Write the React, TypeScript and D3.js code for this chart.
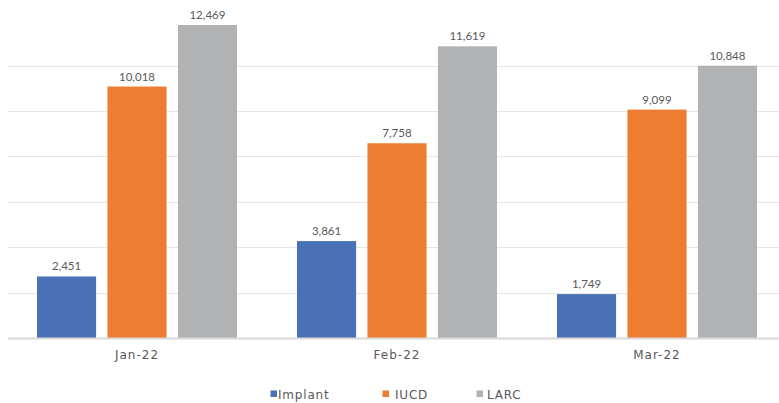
import React from "react";
import * as d3 from "d3";

const months = ["Jan-22", "Feb-22", "Mar-22"];
const seriesNames = ["Implant", "IUCD", "LARC"];
const implantValues = [2451, 3861, 1749];
const iucdValues = [10018, 7758, 9099];
const larcValues = [12469, 11619, 10848];
const gridTicks = [1808, 3616, 5424, 7232, 9040, 10848];
const colors = ["#4472C4", "#ED7D31", "#A5A5A5"];

const W = 779;
const H = 403;

export default function App() {
  const seriesValues = [implantValues, iucdValues, larcValues];
  const x0 = d3
    .scaleBand<string>()
    .domain(months)
    .range([7, 787])
    .paddingInner(60 / 260)
    .paddingOuter(30 / 260);
  const x1 = d3
    .scaleBand<string>()
    .domain(seriesNames)
    .range([0, x0.bandwidth()])
    .paddingInner(0.161)
    .paddingOuter(0);
  const y = d3.scaleLinear().domain([0, 12469]).range([338, 25]);
  const fmt = d3.format(",");
  const barColor = ["#4A71B6", "#ED7D31", "#B1B2B3"];

  const legendItems = [
    { name: seriesNames[0], sx: 270.5, tx: 278 },
    { name: seriesNames[1], sx: 382.5, tx: 395 },
    { name: seriesNames[2], sx: 476.5, tx: 487 },
  ];

  return (
    <svg
      width={W}
      height={H}
      style={{ position: "absolute", left: 0, top: 0, background: "#fff" }}
    >
      <g>
        {gridTicks.map((t) => (
          <line
            key={t}
            x1={8}
            x2={W}
            y1={Math.round(y(t)) + 0.5}
            y2={Math.round(y(t)) + 0.5}
            stroke="#E6E6E6"
            strokeWidth={1}
          />
        ))}
      </g>
      {months.map((m, i) => (
        <g key={m} transform={`translate(${x0(m)},0)`}>
          {seriesNames.map((s, j) => {
            const v = seriesValues[j][i];
            return (
              <g key={s}>
                <rect
                  x={x1(s)}
                  y={y(v)}
                  width={x1.bandwidth()}
                  height={y(0) - y(v)}
                  fill={barColor[j]}
                />
                <text
                  x={(x1(s) as number) + x1.bandwidth() / 2}
                  y={y(v) - 6}
                  textAnchor="middle"
                  fontFamily="Lato, 'Noto Sans', sans-serif"
                  fontSize={11.5}
                  fill="#595959"
                >
                  {fmt(v)}
                </text>
              </g>
            );
          })}
        </g>
      ))}
      <line x1={8} x2={W} y1={338.5} y2={338.5} stroke="#D9D9D9" strokeWidth={2} />
      {months.map((m) => (
        <text
          key={m}
          x={(x0(m) as number) + x0.bandwidth() / 2}
          y={359}
          textAnchor="middle"
          fontFamily="'DejaVu Sans', sans-serif"
          fontSize={12}
          letterSpacing={1}
          fill="#595959"
        >
          {m}
        </text>
      ))}
      {legendItems.map((it, i) => (
        <g key={it.name}>
          <rect x={it.sx} y={390.5} width={6.5} height={6.5} fill={barColor[i]} />
          <text
            x={it.tx}
            y={399}
            fontFamily="'DejaVu Sans', sans-serif"
            fontSize={12}
            letterSpacing={0.8}
            fill="#595959"
          >
            {it.name}
          </text>
        </g>
      ))}
    </svg>
  );
}
